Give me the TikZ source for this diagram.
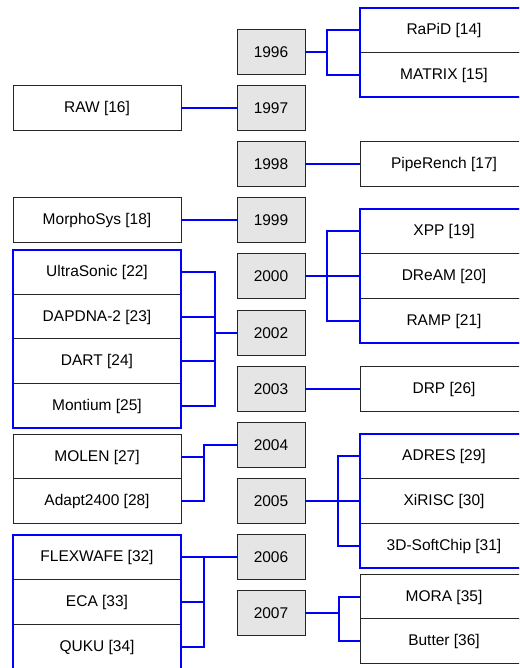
\documentclass[tikz,border=0pt]{standalone}
\usepackage{fontspec}
\setmainfont{Liberation Sans}
\usepackage{xcolor}
\usetikzlibrary{positioning}

\begin{document}
\begin{tikzpicture}[x=1pt, y=-1pt,
    jahr/.style={draw=black!85, fill=black!10, line width=0.8pt, minimum width=68pt,
        minimum height=45pt, inner sep=0pt, outer sep=0pt, font=\fontsize{15.5}{18}\selectfont},
    eintrag/.style={draw=black!85, fill=white, line width=0.8pt, minimum width=168pt,
        minimum height=44.8pt, inner sep=0pt, outer sep=0pt, font=\fontsize{15.5}{18}\selectfont},
    gruppe/.style={draw=blue, line width=2pt},
    verb/.style={draw=blue, line width=1.25pt}]

            % Rahmen des Bildes
            \useasboundingbox (0,0) rectangle (519,668);
            \clip (0,0) rectangle (519,668);

            % Jahreszahlen in der Mitte
            \node[jahr] (j1996) at (271,52) {1996};
            \node[jahr] (j1997) at (271,108) {1997};
            \node[jahr] (j1998) at (271,164) {1998};
            \node[jahr] (j1999) at (271,220) {1999};
            \node[jahr] (j2000) at (271,276) {2000};
            \node[jahr] (j2002) at (271,333) {2002};
            \node[jahr] (j2003) at (271,389) {2003};
            \node[jahr] (j2004) at (271,445) {2004};
            \node[jahr] (j2005) at (271,501) {2005};
            \node[jahr] (j2006) at (271,557) {2006};
            \node[jahr] (j2007) at (271,613) {2007};

            % Architekturen rechts
            \node[eintrag] (rapid) at (444,30) {RaPiD [14]};
            \node[eintrag] (matrix) at (444,75) {MATRIX [15]};
            \node[eintrag] (piperench) at (444,164) {PipeRench [17]};
            \node[eintrag] (xpp) at (444,231) {XPP [19]};
            \node[eintrag] (dream) at (444,276) {DReAM [20]};
            \node[eintrag] (ramp) at (444,321) {RAMP [21]};
            \node[eintrag] (drp) at (444,389) {DRP [26]};
            \node[eintrag] (adres) at (444,456) {ADRES [29]};
            \node[eintrag] (xirisc) at (444,501) {XiRISC [30]};
            \node[eintrag] (softchip) at (444,546) {3D-SoftChip [31]};
            \node[eintrag] (mora) at (444,597) {MORA [35]};
            \node[eintrag] (butter) at (444,641) {Butter [36]};

            % Architekturen links
            \node[eintrag] (raw) at (97,108) {RAW [16]};
            \node[eintrag] (morphosys) at (97,220) {MorphoSys [18]};
            \node[eintrag] (ultrasonic) at (97,272) {UltraSonic [22]};
            \node[eintrag] (dapdna) at (97,317) {DAPDNA-2 [23]};
            \node[eintrag] (dart) at (97,361) {DART [24]};
            \node[eintrag] (montium) at (97,406) {Montium [25]};
            \node[eintrag] (molen) at (97,457) {MOLEN [27]};
            \node[eintrag] (adapt) at (97,501) {Adapt2400 [28]};
            \node[eintrag] (flexwafe) at (97,557) {FLEXWAFE [32]};
            \node[eintrag] (eca) at (97,602) {ECA [33]};
            \node[eintrag] (quku) at (97,647) {QUKU [34]};

            % blaue Rahmen um Gruppen
            \draw[gruppe] (rapid.north west) rectangle (matrix.south east);
            \draw[gruppe] (xpp.north west) rectangle (ramp.south east);
            \draw[gruppe] (adres.north west) rectangle (softchip.south east);
            \draw[gruppe] (ultrasonic.north west) rectangle (montium.south east);
            \draw[gruppe] (flexwafe.north west) rectangle (quku.south east);

            % einfache Verbindungen
            \draw[verb] (raw.east) -- (j1997.west);
            \draw[verb] (j1998.east) -- (piperench.west);
            \draw[verb] (morphosys.east) -- (j1999.west);
            \draw[verb] (j2003.east) -- (drp.west);

            % Verzweigungen nach rechts
            \draw[verb] (j1996.east) -- ++(22,0) |- (rapid.west);
            \draw[verb] (j1996.east) -- ++(22,0) |- (matrix.west);
            \draw[verb] (j2000.east) -- ++(22,0) |- (xpp.west);
            \draw[verb] (j2000.east) -- ++(22,0) |- (dream.west);
            \draw[verb] (j2000.east) -- ++(22,0) |- (ramp.west);
            \draw[verb] (j2005.east) -- ++(33,0) |- (adres.west);
            \draw[verb] (j2005.east) -- ++(33,0) |- (xirisc.west);
            \draw[verb] (j2005.east) -- ++(33,0) |- (softchip.west);
            \draw[verb] (j2007.east) -- ++(34,0) |- (mora.west);
            \draw[verb] (j2007.east) -- ++(34,0) |- (butter.west);

            % Verzweigungen nach links
            \draw[verb] (ultrasonic.east) -- ++(34,0) |- (j2002.west);
            \draw[verb] (dapdna.east) -- ++(34,0) |- (j2002.west);
            \draw[verb] (dart.east) -- ++(34,0) |- (j2002.west);
            \draw[verb] (montium.east) -- ++(34,0) |- (j2002.west);
            \draw[verb] (molen.east) -- ++(23,0) |- (j2004.west);
            \draw[verb] (adapt.east) -- ++(23,0) |- (j2004.west);
            \draw[verb] (flexwafe.east) -- ++(23,0) |- (j2006.west);
            \draw[verb] (eca.east) -- ++(23,0) |- (j2006.west);
            \draw[verb] (quku.east) -- ++(23,0) |- (j2006.west);

         \end{tikzpicture}
\end{document}
